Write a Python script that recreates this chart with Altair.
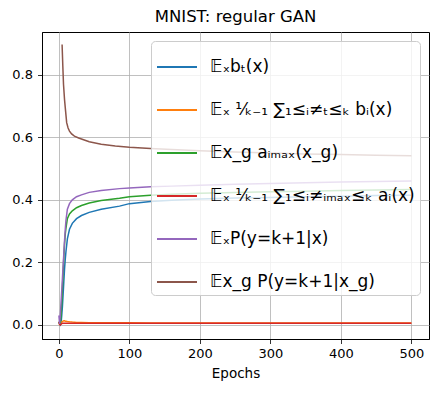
import altair as alt
import pandas as pd

# ---- data ----
labels = [
    "𝔼ₓbₜ(x)",
    "𝔼ₓ ¹⁄ₖ₋₁ ∑₁≤ᵢ≠ₜ≤ₖ bᵢ(x)",
    "𝔼x_g aᵢₘₐₓ(x_g)",
    "𝔼ₓ ¹⁄ₖ₋₁ ∑₁≤ᵢ≠ᵢₘₐₓ≤ₖ aᵢ(x)",
    "𝔼ₓP(y=k+1|x)",
    "𝔼x_g P(y=k+1|x_g)",
]
colors = ["#1f77b4", "#ff7f0e", "#2ca02c", "#d62728", "#9467bd", "#8c564b"]

epochs = [0, 1, 2, 3, 4, 5, 6, 7, 8, 9, 10, 12, 15, 19, 25, 32, 43, 60, 86,
          100, 130, 160, 200, 250, 300, 350, 400, 450, 500]

blue = [0.01, 0.003, 0.0, 0.005, 0.03, 0.06, 0.10, 0.14, 0.18, 0.21, 0.235,
        0.275, 0.306, 0.325, 0.34, 0.35, 0.36, 0.37, 0.38, 0.388, 0.395,
        0.399, 0.403, 0.406, 0.408, 0.41, 0.412, 0.414, 0.415]
orange = [0.005, 0.002, 0.003, 0.006, 0.009, 0.011, 0.012, 0.013, 0.013,
          0.012, 0.012, 0.011, 0.01, 0.009, 0.008, 0.008, 0.007, 0.007,
          0.007, 0.007, 0.006, 0.006, 0.006, 0.006, 0.006, 0.006, 0.006,
          0.006, 0.006]
green = [0.01, 0.003, 0.005, 0.03, 0.07, 0.12, 0.17, 0.22, 0.26, 0.29, 0.31,
         0.34, 0.355, 0.365, 0.375, 0.382, 0.39, 0.398, 0.405, 0.41, 0.415,
         0.418, 0.421, 0.424, 0.426, 0.428, 0.43, 0.432, 0.433]
red = [0.01, 0.002, 0.0, 0.002, 0.004, 0.005, 0.005, 0.005, 0.005, 0.005,
       0.005, 0.005, 0.005, 0.005, 0.005, 0.005, 0.005, 0.005, 0.005, 0.005,
       0.005, 0.005, 0.005, 0.005, 0.005, 0.005, 0.005, 0.005, 0.005]
purple = [0.03, 0.003, 0.03, 0.07, 0.11, 0.15, 0.19, 0.23, 0.27, 0.305, 0.335,
          0.37, 0.388, 0.4, 0.41, 0.416, 0.424, 0.43, 0.436, 0.438, 0.442,
          0.444, 0.447, 0.45, 0.452, 0.455, 0.457, 0.459, 0.46]

brown_epochs = [4.5, 5.5, 6.5, 8, 9, 11, 13, 15, 18, 22, 28, 34, 43, 60, 80,
                100, 130, 160, 200, 250, 300, 350, 400, 450, 500]
brown = [0.897, 0.83, 0.77, 0.72, 0.695, 0.647, 0.63, 0.62, 0.611, 0.604,
         0.598, 0.593, 0.586, 0.578, 0.572, 0.568, 0.564, 0.561, 0.557, 0.553,
         0.55, 0.547, 0.545, 0.543, 0.541]

x_ticks = [0, 100, 200, 300, 400, 500]
y_ticks = [0.0, 0.2, 0.4, 0.6, 0.8]

rows = []
for lab, xs, ys in [
    (labels[0], epochs, blue),
    (labels[1], epochs, orange),
    (labels[2], epochs, green),
    (labels[3], epochs, red),
    (labels[4], epochs, purple),
    (labels[5], brown_epochs, brown),
]:
    for e, v in zip(xs, ys):
        rows.append({"epoch": e, "value": v, "series": lab})
df = pd.DataFrame(rows)

FONT = "DejaVu Sans"

chart = (
    alt.Chart(df)
    .mark_line(strokeWidth=1.5, clip=True)
    .encode(
        x=alt.X("epoch:Q",
                scale=alt.Scale(domain=[-24, 525], nice=False, zero=False),
                axis=alt.Axis(title="Epochs", values=x_ticks, format="d",
                              labelPadding=4, titlePadding=6)),
        y=alt.Y("value:Q",
                scale=alt.Scale(domain=[-0.045, 0.937], nice=False, zero=False),
                axis=alt.Axis(title=None, values=y_ticks, format=".1f",
                              labelPadding=5)),
        color=alt.Color(
            "series:N",
            sort=labels,
            scale=alt.Scale(domain=labels, range=colors),
            legend=alt.Legend(
                title=None, orient="none", legendX=109, legendY=9,
                symbolType="stroke", symbolSize=1600, symbolStrokeWidth=2,
                labelFontSize=17, labelFont=FONT, labelLimit=400,
                labelColor="black",
                fillColor="rgba(255,255,255,0.8)", strokeColor="#cccccc",
                cornerRadius=4, padding=5, rowPadding=14, labelOffset=12,
                zindex=1,
            ),
        ),
        detail="series:N",
    )
    .properties(
        width=387, height=307,
        title=alt.TitleParams("MNIST: regular GAN", font=FONT, fontSize=16.5,
                              fontWeight="normal", color="black", offset=7),
        autosize=alt.AutoSizeParams(type="none"),
        padding={"left": 34, "top": 24, "right": 5, "bottom": 46},
    )
    .configure_view(stroke="black", strokeWidth=1)
    .configure_axis(
        grid=True, gridColor="#b0b0b0", gridWidth=0.8,
        domainColor="black", domainWidth=1,
        tickColor="black", tickSize=4.5, tickWidth=0.8,
        labelFont=FONT, labelFontSize=13, labelColor="black",
        titleFont=FONT, titleFontSize=13.5, titleFontWeight="normal",
        titleColor="black",
    )
)

chart.save("out.html", embed_options={"renderer": "svg", "actions": False})
